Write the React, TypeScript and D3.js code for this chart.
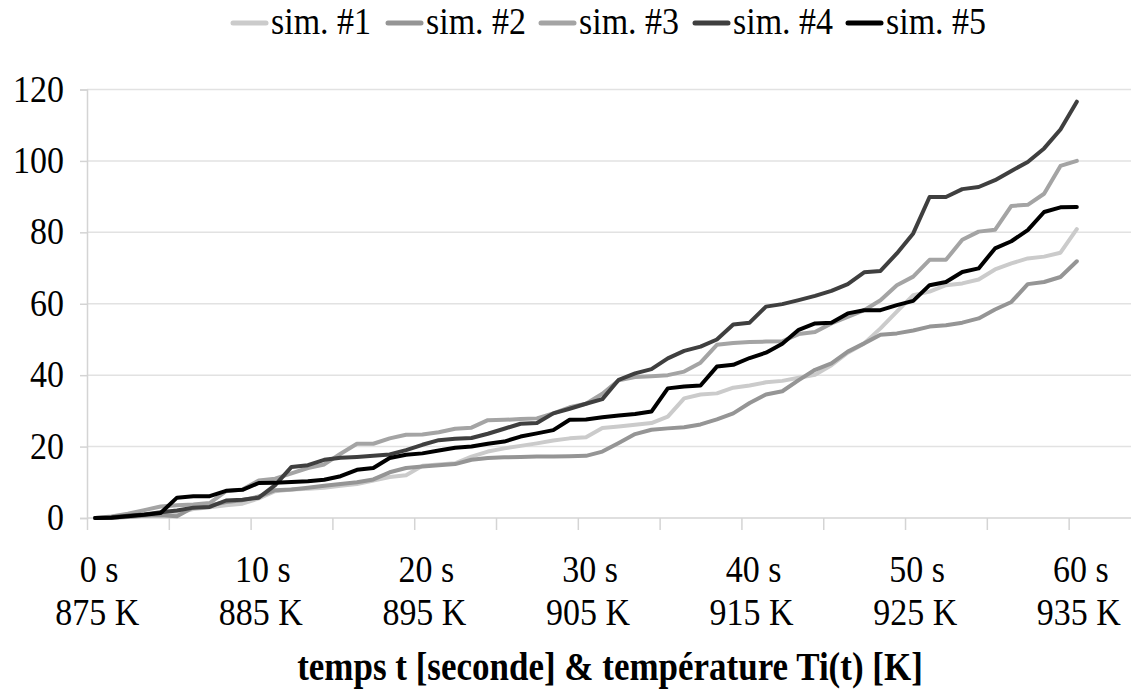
import React, { useEffect, useRef } from 'react';
import * as d3 from 'd3';

// one value per second, t = 0..60
const sim1 = [0, 0.1, 0.4, 0.8, 1.0, 1.4, 2.5, 3.0, 3.6, 4.0, 5.5, 7.5, 8.0, 8.2, 8.5, 9.0, 9.5, 10.5, 11.5, 12.0,
  14.6, 15.0, 15.3, 17.2, 18.6, 19.5, 20.2, 20.9, 21.7, 22.3, 22.6, 25.2, 25.6, 26.1, 26.6, 28.4, 33.5, 34.6, 34.9, 36.5,
  37.1, 38.0, 38.4, 39.3, 40.1, 42.8, 46.3, 48.9, 53.1, 57.8, 62.4, 63.4, 65.2, 65.7, 66.8, 69.6, 71.3, 72.7, 73.2, 74.3, 80.9];
const sim2 = [0, 0.1, 0.3, 0.6, 0.8, 0.5, 3.0, 3.5, 4.5, 5.0, 6.0, 7.8, 8.0, 8.5, 9.0, 9.5, 10.0, 10.8, 12.8, 14.0,
  14.4, 14.8, 15.1, 16.3, 16.8, 17.0, 17.1, 17.2, 17.2, 17.3, 17.4, 18.6, 21.0, 23.5, 24.7, 25.1, 25.4, 26.2, 27.6, 29.3,
  32.2, 34.6, 35.5, 38.6, 41.5, 43.3, 46.6, 48.9, 51.3, 51.7, 52.5, 53.6, 54.0, 54.7, 55.9, 58.4, 60.5, 65.5, 66.1, 67.5, 71.9];
const sim3 = [0, 0.4, 1.2, 2.2, 3.2, 3.6, 3.8, 4.2, 7.5, 8.0, 10.5, 11.0, 12.5, 14.0, 15.0, 18.0, 20.8, 20.8, 22.3, 23.3,
  23.4, 24.0, 25.0, 25.3, 27.4, 27.5, 27.7, 27.9, 29.3, 31.0, 32.0, 34.8, 38.6, 39.5, 39.7, 40.0, 41.0, 43.5, 48.5, 49.0,
  49.3, 49.4, 49.5, 51.5, 52.1, 54.5, 56.3, 58.2, 61.0, 65.2, 67.6, 72.3, 72.3, 77.9, 80.2, 80.7, 87.4, 87.7, 90.8, 98.6, 100];
const sim4 = [0, 0.2, 0.6, 1.0, 1.6, 2.1, 2.9, 3.1, 4.9, 5.1, 5.7, 9.2, 14.3, 14.8, 16.3, 16.9, 17.1, 17.4, 17.8, 19.0,
  20.5, 21.8, 22.2, 22.4, 23.6, 25.0, 26.4, 26.6, 29.3, 30.6, 32.0, 33.3, 38.7, 40.5, 41.7, 44.7, 46.8, 48.0, 50.0, 54.2,
  54.7, 59.2, 59.9, 61.0, 62.2, 63.6, 65.5, 68.8, 69.2, 74.1, 79.7, 89.9, 89.9, 92.1, 92.7, 94.6, 97.2, 99.7, 103.5, 108.8, 116.6];
const sim5 = [0, 0.1, 0.5, 0.9, 1.4, 5.7, 6.1, 6.1, 7.6, 7.9, 9.8, 9.9, 10.1, 10.3, 10.7, 11.7, 13.5, 14.0, 16.8, 17.7,
  18.1, 18.9, 19.7, 20.0, 20.8, 21.4, 22.8, 23.7, 24.6, 27.5, 27.6, 28.2, 28.7, 29.1, 29.8, 36.3, 36.8, 37.1, 42.4, 42.9,
  44.8, 46.3, 48.8, 52.7, 54.5, 54.7, 57.3, 58.2, 58.2, 59.6, 60.8, 65.2, 66.1, 68.9, 69.9, 75.5, 77.5, 80.6, 85.7, 87.0, 87.1];

const seriesNames = ['sim. #1', 'sim. #2', 'sim. #3', 'sim. #4', 'sim. #5'];
const seriesColors = ['#cbcbcb', '#959595', '#a4a4a4', '#3f3f3f', '#000000'];
const timeLabels = ['0 s', '10 s', '20 s', '30 s', '40 s', '50 s', '60 s'];
const tempLabels = ['875 K', '885 K', '895 K', '905 K', '915 K', '925 K', '935 K'];
const yTicks = [0, 20, 40, 60, 80, 100, 120];

const App: React.FC = () => {
  const svgRef = useRef<SVGSVGElement>(null);

  useEffect(() => {
    if (!svgRef.current) return;
    const svg = d3.select(svgRef.current);
    svg.selectAll('*').remove();

    const width = 1131;
    const font = "'Liberation Serif', 'Times New Roman', serif";
    const stretch = 1.12; // the text in the original is a bit taller than wide
    const series = [sim1, sim2, sim3, sim4, sim5];

    // category axis: each second is one category, tick every 5
    const x = d3.scaleLinear().domain([-0.5, 60.5]).range([87, 1085]);
    const y = d3.scaleLinear().domain([0, 120]).range([518, 89.5]);

    const addText = (parent: any, tx: number, ty: number, str: string, anchor = 'middle', size = 34, bold = false) =>
      parent.append('text')
        .attr('transform', `translate(${tx},${ty}) scale(1,${stretch})`)
        .attr('text-anchor', anchor)
        .style('font-family', font)
        .style('font-size', `${size}px`)
        .style('font-weight', bold ? 'bold' : 'normal')
        .attr('fill', '#000')
        .text(str);

    // grid
    svg.append('g')
      .selectAll('line')
      .data(yTicks.slice(1))
      .join('line')
      .attr('x1', x(-0.5)).attr('x2', width)
      .attr('y1', d => y(d)).attr('y2', d => y(d))
      .attr('stroke', '#e2e2e2').attr('stroke-width', 1.5);

    // y axis
    const yAxis = svg.append('g')
      .attr('transform', `translate(${x(-0.5)},0)`)
      .call(d3.axisLeft(y).tickValues(yTicks).tickSize(7).tickFormat(() => ''));
    yAxis.select('.domain').attr('stroke', '#d4d4d4').attr('stroke-width', 1.5);
    yAxis.selectAll('.tick line').attr('stroke', '#d4d4d4').attr('stroke-width', 1.5);
    yTicks.forEach(v => addText(svg, 64, y(v) + 12, String(v), 'end'));

    // x axis
    const xTickVals = d3.range(-0.5, 60, 5);
    const xAxis = svg.append('g')
      .attr('transform', `translate(0,${y(0)})`)
      .call(d3.axisBottom(x).tickValues(xTickVals).tickSize(12).tickSizeOuter(0).tickFormat(() => ''));
    xAxis.select('.domain').attr('d', `M${x(-0.5)},0H${width}`)
      .attr('stroke', '#d4d4d4').attr('stroke-width', 1.5);
    xAxis.selectAll('.tick line').attr('stroke', '#d4d4d4').attr('stroke-width', 1.5);

    timeLabels.forEach((lab, i) => {
      const cx = x(i * 10) + 4;
      addText(svg, cx, 582, lab);
      addText(svg, cx - 2, 625, tempLabels[i]);
    });

    // lines
    const line = d3.line<number>()
      .x((_, i) => x(i))
      .y(d => y(d));
    series.forEach((s, i) => {
      svg.append('path')
        .datum(s)
        .attr('fill', 'none')
        .attr('stroke', seriesColors[i])
        .attr('stroke-width', 4)
        .attr('stroke-linejoin', 'round')
        .attr('stroke-linecap', 'round')
        .attr('d', line);
    });

    // legend
    const legendX = [233, 388, 541, 695, 848];
    seriesNames.forEach((name, i) => {
      const g = svg.append('g').attr('transform', `translate(${legendX[i]},23)`);
      g.append('line').attr('x1', 0).attr('x2', 33).attr('y1', 0).attr('y2', 0)
        .attr('stroke', seriesColors[i]).attr('stroke-width', 5).attr('stroke-linecap', 'round');
      addText(g, 38, 11, name, 'start');
    });

    // axis title, centred under the whole plot area
    addText(svg, 610, 680, 'temps t [seconde] & température Ti(t) [K]', 'middle', 35, true);
  }, []);

  return (
    <svg ref={svgRef} width={1131} height={690} viewBox="0 0 1131 690"
      style={{ position: 'absolute', left: 0, top: 0, background: '#fff' }} />
  );
};

export default App;
